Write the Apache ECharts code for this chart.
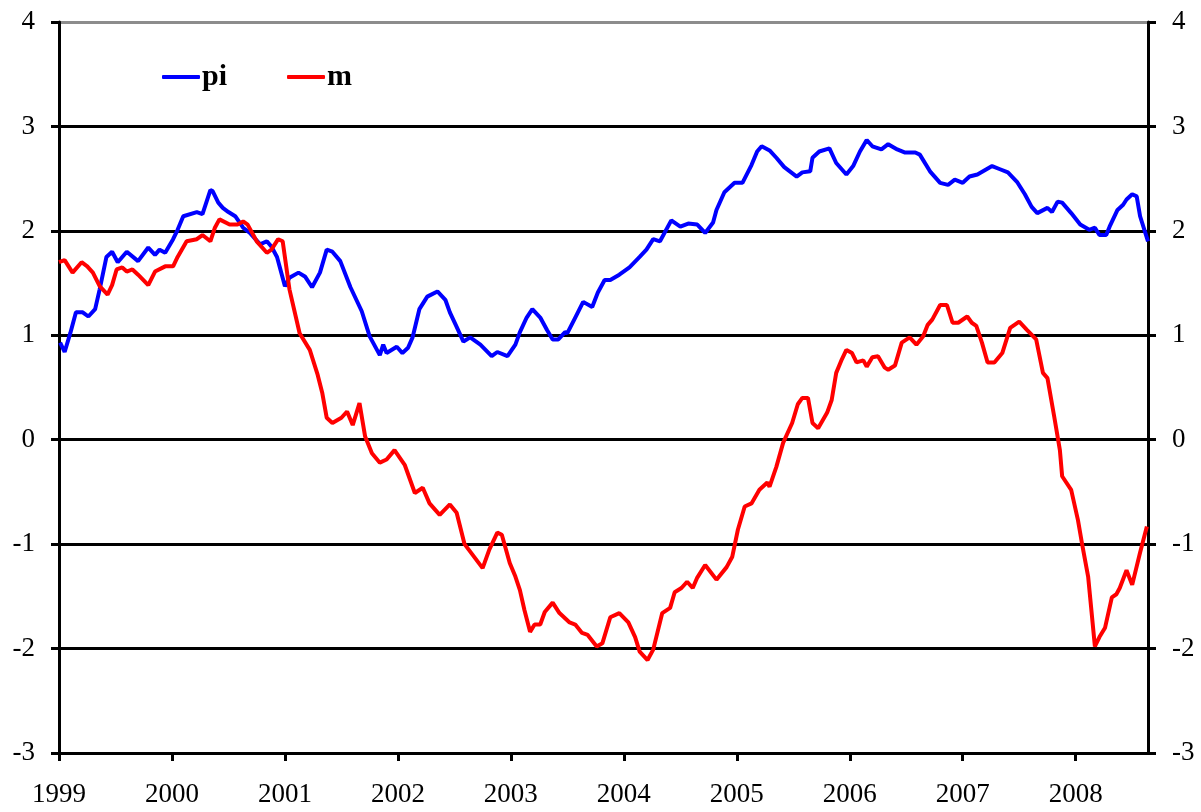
<!DOCTYPE html>
<html>
<head>
<meta charset="UTF-8">
<title>pi m</title>
<script src="https://cdn.jsdelivr.net/npm/echarts@6/dist/echarts.min.js"></script>
<style>
  html, body { margin: 0; padding: 0; background: #fff; }
  #chart { width: 1201px; height: 812px; }
</style>
</head>
<body>
<div id="chart"></div>
<script>
// x values are decimal years
var yearTicks = [1999, 2000, 2001, 2002, 2003, 2004, 2005, 2006, 2007, 2008];
var yTicks = [-3, -2, -1, 0, 1, 2, 3, 4];

var piDates = [1999.01, 1999.05, 1999.10, 1999.15, 1999.21, 1999.26, 1999.32, 1999.36, 1999.42, 1999.47,
  1999.52, 1999.60, 1999.70, 1999.79, 1999.85, 1999.89, 1999.94, 2000.01, 2000.05, 2000.10,
  2000.22, 2000.27, 2000.34, 2000.36, 2000.41, 2000.45, 2000.50, 2000.56, 2000.63, 2000.69,
  2000.78, 2000.84, 2000.88, 2000.93, 2001.00, 2001.04, 2001.12, 2001.18, 2001.24, 2001.31,
  2001.37, 2001.42, 2001.49, 2001.58, 2001.68, 2001.75, 2001.84, 2001.87, 2001.90, 2001.99,
  2002.04, 2002.09, 2002.13, 2002.19, 2002.26, 2002.35, 2002.42, 2002.46, 2002.52, 2002.58,
  2002.64, 2002.73, 2002.83, 2002.88, 2002.97, 2003.04, 2003.08, 2003.14, 2003.19, 2003.26,
  2003.32, 2003.37, 2003.42, 2003.48, 2003.50, 2003.57, 2003.64, 2003.72, 2003.77, 2003.83,
  2003.88, 2003.96, 2004.05, 2004.14, 2004.20, 2004.26, 2004.32, 2004.42, 2004.50, 2004.57,
  2004.65, 2004.72, 2004.79, 2004.82, 2004.89, 2004.98, 2005.05, 2005.13, 2005.18, 2005.22,
  2005.29, 2005.35, 2005.42, 2005.53, 2005.58, 2005.65, 2005.67, 2005.73, 2005.82, 2005.88,
  2005.97, 2006.03, 2006.09, 2006.15, 2006.20, 2006.28, 2006.34, 2006.42, 2006.49, 2006.58,
  2006.62, 2006.71, 2006.80, 2006.87, 2006.93, 2007.00, 2007.06, 2007.13, 2007.26, 2007.33,
  2007.40, 2007.48, 2007.55, 2007.61, 2007.66, 2007.75, 2007.79, 2007.84, 2007.88, 2007.96,
  2008.04, 2008.12, 2008.17, 2008.21, 2008.27, 2008.30, 2008.37, 2008.42, 2008.45, 2008.50,
  2008.54, 2008.57, 2008.64];
var piValues = [0.93, 0.84, 1.02, 1.22, 1.22, 1.18, 1.25, 1.44, 1.75, 1.80,
  1.70, 1.80, 1.71, 1.84, 1.77, 1.82, 1.79, 1.92, 2.01, 2.14,
  2.18, 2.16, 2.39, 2.38, 2.27, 2.22, 2.18, 2.14, 2.03, 1.98,
  1.87, 1.90, 1.85, 1.75, 1.47, 1.55, 1.60, 1.56, 1.46, 1.60,
  1.82, 1.80, 1.71, 1.46, 1.23, 0.99, 0.81, 0.91, 0.83, 0.89,
  0.83, 0.88, 0.98, 1.25, 1.37, 1.42, 1.34, 1.22, 1.08, 0.94,
  0.98, 0.91, 0.80, 0.84, 0.80, 0.91, 1.03, 1.17, 1.25, 1.17,
  1.05, 0.96, 0.96, 1.03, 1.02, 1.17, 1.32, 1.27, 1.41, 1.53,
  1.53, 1.58, 1.65, 1.75, 1.82, 1.92, 1.90, 2.10, 2.04, 2.07,
  2.06, 1.98, 2.08, 2.20, 2.37, 2.46, 2.46, 2.63, 2.76, 2.81,
  2.77, 2.70, 2.61, 2.52, 2.56, 2.57, 2.70, 2.76, 2.79, 2.65,
  2.54, 2.62, 2.76, 2.87, 2.81, 2.78, 2.83, 2.78, 2.75, 2.75,
  2.73, 2.57, 2.46, 2.44, 2.49, 2.46, 2.52, 2.54, 2.62, 2.59,
  2.56, 2.47, 2.35, 2.23, 2.17, 2.22, 2.18, 2.28, 2.27, 2.17,
  2.06, 2.01, 2.03, 1.96, 1.96, 2.04, 2.20, 2.25, 2.30, 2.35,
  2.33, 2.14, 1.90];

var mDates = [1999.00, 1999.05, 1999.12, 1999.20, 1999.25, 1999.30, 1999.36, 1999.43, 1999.47, 1999.51,
  1999.56, 1999.60, 1999.65, 1999.70, 1999.79, 1999.85, 1999.94, 2000.01, 2000.05, 2000.13,
  2000.22, 2000.27, 2000.34, 2000.38, 2000.42, 2000.51, 2000.58, 2000.63, 2000.67, 2000.75,
  2000.84, 2000.88, 2000.94, 2000.98, 2001.04, 2001.13, 2001.22, 2001.29, 2001.33, 2001.37,
  2001.42, 2001.50, 2001.55, 2001.60, 2001.66, 2001.71, 2001.77, 2001.84, 2001.90, 2001.97,
  2002.06, 2002.15, 2002.22, 2002.28, 2002.37, 2002.46, 2002.52, 2002.59, 2002.66, 2002.75,
  2002.81, 2002.88, 2002.92, 2002.99, 2003.04, 2003.08, 2003.12, 2003.17, 2003.21, 2003.26,
  2003.30, 2003.37, 2003.43, 2003.52, 2003.57, 2003.63, 2003.68, 2003.76, 2003.81, 2003.88,
  2003.96, 2004.04, 2004.10, 2004.14, 2004.21, 2004.26, 2004.34, 2004.41, 2004.45, 2004.51,
  2004.56, 2004.61, 2004.65, 2004.72, 2004.82, 2004.91, 2004.96, 2005.01, 2005.07, 2005.13,
  2005.20, 2005.27, 2005.29, 2005.35, 2005.41, 2005.49, 2005.54, 2005.58, 2005.63, 2005.67,
  2005.72, 2005.80, 2005.84, 2005.88, 2005.93, 2005.97, 2006.02, 2006.06, 2006.12, 2006.15,
  2006.20, 2006.25, 2006.31, 2006.34, 2006.40, 2006.46, 2006.53, 2006.59, 2006.65, 2006.69,
  2006.73, 2006.80, 2006.86, 2006.91, 2006.96, 2007.04, 2007.08, 2007.12, 2007.17, 2007.22,
  2007.28, 2007.35, 2007.42, 2007.50, 2007.57, 2007.65, 2007.71, 2007.75, 2007.81, 2007.86,
  2007.88, 2007.96, 2008.02, 2008.06, 2008.11, 2008.17, 2008.21, 2008.26, 2008.32, 2008.36,
  2008.39, 2008.45, 2008.50, 2008.57, 2008.63];
var mValues = [1.70, 1.72, 1.60, 1.70, 1.66, 1.60, 1.47, 1.39, 1.48, 1.63,
  1.65, 1.61, 1.63, 1.58, 1.48, 1.61, 1.66, 1.66, 1.75, 1.90,
  1.92, 1.96, 1.90, 2.03, 2.11, 2.06, 2.06, 2.09, 2.06, 1.90,
  1.79, 1.82, 1.92, 1.90, 1.44, 1.02, 0.86, 0.62, 0.45, 0.21,
  0.16, 0.21, 0.27, 0.14, 0.35, 0.03, -0.13, -0.22, -0.19, -0.10,
  -0.24, -0.51, -0.46, -0.61, -0.72, -0.62, -0.70, -1.00, -1.10, -1.23,
  -1.05, -0.89, -0.91, -1.18, -1.31, -1.44, -1.63, -1.84, -1.77, -1.77,
  -1.65, -1.56, -1.66, -1.75, -1.77, -1.85, -1.87, -1.98, -1.95, -1.70,
  -1.66, -1.75, -1.89, -2.03, -2.11, -2.01, -1.66, -1.61, -1.46, -1.42,
  -1.36, -1.42, -1.32, -1.20, -1.34, -1.22, -1.12, -0.86, -0.64, -0.61,
  -0.48, -0.41, -0.45, -0.26, -0.03, 0.16, 0.34, 0.40, 0.40, 0.16,
  0.11, 0.26, 0.38, 0.64, 0.77, 0.86, 0.83, 0.74, 0.76, 0.70,
  0.79, 0.80, 0.69, 0.67, 0.71, 0.93, 0.98, 0.91, 0.99, 1.10,
  1.15, 1.29, 1.29, 1.12, 1.12, 1.18, 1.12, 1.09, 0.93, 0.74,
  0.74, 0.83, 1.07, 1.13, 1.05, 0.96, 0.64, 0.59, 0.22, -0.10,
  -0.35, -0.48, -0.77, -1.02, -1.31, -1.98, -1.89, -1.80, -1.51, -1.48,
  -1.42, -1.25, -1.39, -1.08, -0.83];

function pairs(xs, ys) {
  return xs.map(function (x, i) { return [x, ys[i]]; });
}

var serif = 'Liberation Serif';
var chart = echarts.init(document.getElementById('chart'));

var yAxisBase = {
  type: 'value',
  min: -3,
  max: 4,
  interval: 1,
  axisLine: { show: true, lineStyle: { color: '#000', width: 3 } },
  axisTick: { show: true, inside: false, length: 8, lineStyle: { color: '#000', width: 3 } },
  axisLabel: { color: '#000', fontFamily: serif, fontSize: 27, margin: 24 }
};

chart.setOption({
  animation: false,
  backgroundColor: '#fff',
  grid: { left: 59, right: 53, top: 22, bottom: 59, containLabel: false },
  legend: {
    left: 157,
    top: 57,
    icon: 'roundRect',
    itemWidth: 38,
    itemHeight: 4,
    itemGap: 60,
    textStyle: { fontFamily: serif, fontSize: 30, fontWeight: 'bold', color: '#000', padding: [0, 0, 0, -3] },
    data: ['pi', 'm']
  },
  xAxis: {
    type: 'value',
    min: 1999,
    max: 2008.64,
    interval: 1,
    axisLine: { show: true, onZero: false, lineStyle: { color: '#000', width: 3 } },
    axisTick: { show: true, inside: false, length: 8, customValues: yearTicks, lineStyle: { color: '#000', width: 3 } },
    axisLabel: {
      customValues: yearTicks,
      color: '#000', fontFamily: serif, fontSize: 27, margin: 28,
      formatter: function (v) { return String(v); }
    },
    splitLine: { show: false }
  },
  yAxis: [
    Object.assign({}, yAxisBase, {
      position: 'left',
      splitLine: {
        show: true,
        lineStyle: { color: ['#000', '#000', '#000', '#000', '#000', '#000', '#000', '#8c8c8c'], width: 3 }
      }
    }),
    Object.assign({}, yAxisBase, {
      position: 'right',
      splitLine: { show: false }
    })
  ],
  series: [
    {
      name: 'pi',
      type: 'line',
      symbol: 'none',
      color: '#0000ff',
      lineStyle: { color: '#0000ff', width: 4 },
      data: pairs(piDates, piValues)
    },
    {
      name: 'm',
      type: 'line',
      symbol: 'none',
      color: '#ff0000',
      lineStyle: { color: '#ff0000', width: 4 },
      data: pairs(mDates, mValues)
    }
  ]
});
</script>
</body>
</html>
